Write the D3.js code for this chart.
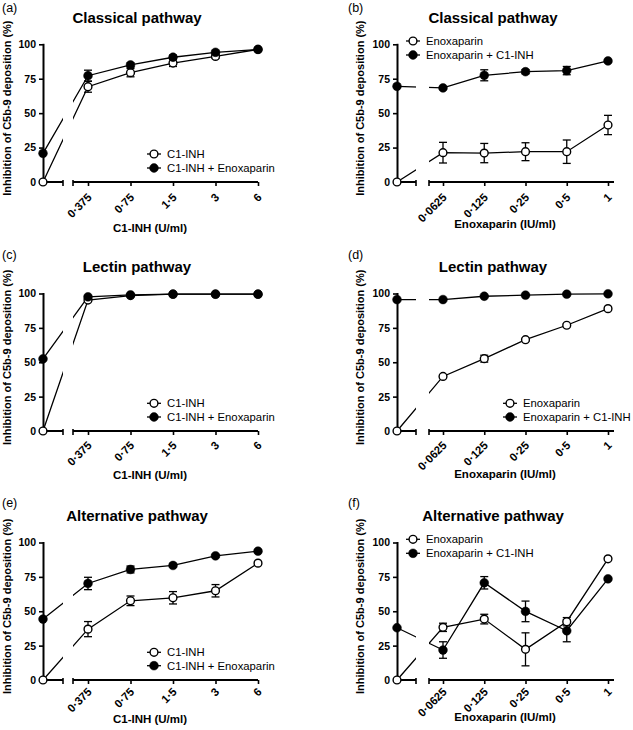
<!DOCTYPE html>
<html><head><meta charset="utf-8">
<script src="https://cdn.jsdelivr.net/npm/d3@7"></script>
<style>body{margin:0;background:#fff}svg{display:block}</style>
</head><body><svg id="chart" width="633" height="730"></svg>
<script>
// ---------- data ----------
const c1inhDoses = ["0","0·375","0·75","1·5","3","6"];
const enoxDoses  = ["0","0·0625","0·125","0·25","0·5","1"];
const yTicks = [0, 25, 50, 75, 100];
const panelLetters = ["(a)","(b)","(c)","(d)","(e)","(f)"];
const panelTitles = ["Classical pathway","Classical pathway","Lectin pathway","Lectin pathway","Alternative pathway","Alternative pathway"];
const yLabel = "Inhibition of C5b-9 deposition (%)";
const c1inhAxisTitle = "C1-INH (U/ml)";
const enoxAxisTitle = "Enoxaparin (IU/ml)";
const nameC1 = "C1-INH", nameC1E = "C1-INH + Enoxaparin";
const nameE = "Enoxaparin", nameEC = "Enoxaparin + C1-INH";

// (a) classical, C1-INH titration
const aC1     = [0, 69.2, 79.4, 86.4, 91.2, 96.3];
const aC1Err  = [0, 4, 3, 2.5, 1.5, 0.5];
const aC1E    = [20.8, 77.2, 85, 90.6, 94.2, 96.3];
const aC1EErr = [0, 4, 1.5, 1.5, 1, 0.5];
// (b) classical, enoxaparin titration
const bE      = [0, 21.3, 21, 22, 22, 41.4];
const bEErr   = [0, 7.5, 7, 6.5, 8.5, 7];
const bEC     = [69.5, 68.3, 77.5, 80.1, 80.9, 87.9];
const bECErr  = [0, 1, 4, 1.5, 3, 1];
// (c) lectin, C1-INH titration
const cC1     = [0, 95.2, 98.5, 99.5, 99.5, 99.5];
const cC1Err  = [0, 1, 0.5, 0.3, 0.3, 0.3];
const cC1E    = [52.5, 97.6, 99, 99.5, 99.5, 99.5];
const cC1EErr = [0, 1, 0.5, 0.3, 0.3, 0.3];
// (d) lectin, enoxaparin titration
const dE      = [0, 39.7, 52.6, 66.4, 76.9, 89];
const dEErr   = [0, 1, 2.5, 1, 1, 1];
const dEC     = [95.6, 95.6, 98, 98.8, 99.5, 99.8];
const dECErr  = [0, 0.5, 0.5, 0.5, 0.3, 0.3];
// (e) alternative, C1-INH titration
const eC1     = [0, 37, 57.6, 59.8, 64.9, 85];
const eC1Err  = [0, 5.5, 3.5, 4.5, 4.5, 1];
const eC1E    = [44.3, 70.2, 80.4, 83.3, 90.3, 93.7];
const eC1EErr = [0, 4.5, 2.5, 1, 1, 1];
// (f) alternative, enoxaparin titration
const fE      = [0, 38.3, 44.3, 22.3, 42.4, 88.1];
const fEErr   = [0, 3, 3.5, 12, 3, 1];
const fEC     = [38, 21.8, 70.7, 49.9, 35.8, 73.6];
const fECErr  = [0, 6, 4.5, 7.5, 8, 1];

// ---------- layout ----------
const FONT = "'Liberation Sans', Arial, Helvetica, sans-serif";
const colL = {axX: 43, t1: 88, t5: 258, brk: [63, 73], axEnd: 258, titleX: 137, xTitleX: 150, letterX: 2, yLabX: 11};
const colR = {axX: 397, t1: 443, t5: 608, brk: [416, 429], axEnd: 614, titleX: 493, xTitleX: 505, letterX: 348, yLabX: 364};
const rows = [
  {y0: 182, y100: 44.3, titleY: 23, letterY: 12, xTitleY: [232, 228], lblDy: 16},
  {y0: 431, y100: 293.5, titleY: 272, letterY: 259, xTitleY: [479, 478], lblDy: 15},
  {y0: 680, y100: 542.5, titleY: 521, letterY: 507, xTitleY: [723, 721], lblDy: 12.5}
];
const legendX = [154, 413, 154, 510, 154, 413];
const legendRows = [[154, 168], [41, 55], [403.3, 417], [403.3, 417], [652.3, 665.7], [539.3, 553.3]];

const panels = [
  {doses: c1inhDoses, xTitle: c1inhAxisTitle, series: [{name: nameC1, open: true, v: aC1, e: aC1Err}, {name: nameC1E, open: false, v: aC1E, e: aC1EErr}]},
  {doses: enoxDoses,  xTitle: enoxAxisTitle,  series: [{name: nameE, open: true, v: bE, e: bEErr}, {name: nameEC, open: false, v: bEC, e: bECErr}]},
  {doses: c1inhDoses, xTitle: c1inhAxisTitle, series: [{name: nameC1, open: true, v: cC1, e: cC1Err}, {name: nameC1E, open: false, v: cC1E, e: cC1EErr}]},
  {doses: enoxDoses,  xTitle: enoxAxisTitle,  series: [{name: nameE, open: true, v: dE, e: dEErr}, {name: nameEC, open: false, v: dEC, e: dECErr}]},
  {doses: c1inhDoses, xTitle: c1inhAxisTitle, series: [{name: nameC1, open: true, v: eC1, e: eC1Err}, {name: nameC1E, open: false, v: eC1E, e: eC1EErr}]},
  {doses: enoxDoses,  xTitle: enoxAxisTitle,  series: [{name: nameE, open: true, v: fE, e: fEErr}, {name: nameEC, open: false, v: fEC, e: fECErr}]}
];

const svg = d3.select("#chart").style("font-family", FONT);
const defs = svg.append("defs");
const R_OPEN = 3.9, R_FILL = 4.4;

panels.forEach((p, i) => {
  const col = i % 2 === 0 ? colL : colR;
  const row = rows[Math.floor(i / 2)];
  const g = svg.append("g");

  const x = d3.scaleLinear().domain([0, 1, 5]).range([col.axX, col.t1, col.t5]);
  const y = d3.scaleLinear().domain([0, 100]).range([row.y0, row.y100]);

  // panel letter & title
  g.append("text").attr("x", col.letterX).attr("y", row.letterY)
    .attr("font-size", 12.5).text(panelLetters[i]);
  g.append("text").attr("x", col.titleX).attr("y", row.titleY)
    .attr("text-anchor", "middle").attr("font-size", 15).attr("font-weight", "bold")
    .text(panelTitles[i]);

  // y axis
  const yAx = g.append("g").attr("transform", `translate(${col.axX},0)`)
    .call(d3.axisLeft(y).tickValues(yTicks).tickSize(4).tickSizeOuter(0).tickPadding(3));
  yAx.select(".domain").attr("stroke-width", 2).attr("stroke-linecap", "square");
  yAx.selectAll(".tick line").attr("stroke-width", 1.6);
  yAx.selectAll(".tick text").attr("font-size", 10.5).attr("font-weight", "bold")
    .attr("font-family", FONT).attr("fill", "#000");

  // y label
  g.append("text")
    .attr("transform", `translate(${col.yLabX},${(row.y0 + row.y100) / 2 - 5}) rotate(-90)`)
    .attr("text-anchor", "middle").attr("font-size", 11).attr("font-weight", "bold")
    .text(yLabel);

  // x axis: short segment near origin + main segment
  const xa = g.append("g");
  xa.append("line").attr("x1", col.axX).attr("x2", col.brk[0])
    .attr("y1", row.y0).attr("y2", row.y0).attr("stroke", "#000").attr("stroke-width", 2);
  xa.append("line").attr("x1", col.brk[0]).attr("x2", col.brk[0])
    .attr("y1", row.y0 - 2).attr("y2", row.y0 + 4).attr("stroke", "#000").attr("stroke-width", 1.6);
  xa.append("line").attr("x1", col.brk[1]).attr("x2", col.brk[1])
    .attr("y1", row.y0 - 2).attr("y2", row.y0 + 4).attr("stroke", "#000").attr("stroke-width", 1.6);
  xa.append("line").attr("x1", col.brk[1]).attr("x2", col.axEnd)
    .attr("y1", row.y0).attr("y2", row.y0).attr("stroke", "#000").attr("stroke-width", 2);
  const xAx = xa.append("g").attr("transform", `translate(0,${row.y0})`)
    .call(d3.axisBottom(x).tickValues([1, 2, 3, 4, 5]).tickFormat(d => p.doses[d]).tickSize(4).tickSizeOuter(0));
  xAx.select(".domain").remove();
  xAx.selectAll(".tick line").attr("stroke-width", 1.6);
  xAx.selectAll(".tick text").attr("font-size", 11.3).attr("font-weight", "bold")
    .attr("font-family", FONT).attr("fill", "#000")
    .attr("text-anchor", "end").attr("dy", null).attr("y", null)
    .attr("transform", `translate(4,${row.lblDy}) rotate(-45)`);

  g.append("text").attr("x", col.xTitleX).attr("y", row.xTitleY[i % 2])
    .attr("text-anchor", "middle").attr("font-size", 11.5).attr("font-weight", "bold")
    .text(p.xTitle);

  // clip to hide lines in axis break
  const cid = "clip" + i;
  const cp = defs.append("clipPath").attr("id", cid);
  cp.append("rect").attr("x", col.axX - 20).attr("y", row.y100 - 30).attr("width", col.brk[0] - col.axX + 20).attr("height", row.y0 - row.y100 + 40);
  cp.append("rect").attr("x", col.brk[1]).attr("y", row.y100 - 30).attr("width", 640 - col.brk[1]).attr("height", row.y0 - row.y100 + 40);

  const line = d3.line().x((d, j) => x(j)).y(d => y(d));
  p.series.forEach(s => {
    g.append("path").attr("d", line(s.v)).attr("fill", "none")
      .attr("stroke", "#000").attr("stroke-width", 1.3).attr("clip-path", `url(#${cid})`);
  });
  // error bars
  p.series.forEach(s => {
    s.v.forEach((v, j) => {
      if (!s.e[j]) return;
      const cx = x(j), yt = y(v + s.e[j]), yb = y(v - s.e[j]);
      g.append("line").attr("x1", cx).attr("x2", cx).attr("y1", yt).attr("y2", yb).attr("stroke", "#000").attr("stroke-width", 1.3);
      g.append("line").attr("x1", cx - 4).attr("x2", cx + 4).attr("y1", yt).attr("y2", yt).attr("stroke", "#000").attr("stroke-width", 1.3);
      g.append("line").attr("x1", cx - 4).attr("x2", cx + 4).attr("y1", yb).attr("y2", yb).attr("stroke", "#000").attr("stroke-width", 1.3);
    });
  });
  // markers
  p.series.forEach(s => {
    g.selectAll(null).data(s.v).join("circle")
      .attr("cx", (d, j) => x(j)).attr("cy", d => y(d))
      .attr("r", s.open ? R_OPEN : R_FILL)
      .attr("fill", s.open ? "#fff" : "#000")
      .attr("stroke", "#000").attr("stroke-width", s.open ? 1.4 : 0.5);
  });

  // legend
  const lr = legendRows[i], lx = legendX[i];
  p.series.forEach((s, k) => {
    const ly = lr[k];
    g.append("line").attr("x1", lx - 7).attr("x2", lx + 7).attr("y1", ly).attr("y2", ly)
      .attr("stroke", "#000").attr("stroke-width", 1.3);
    g.append("circle").attr("cx", lx).attr("cy", ly)
      .attr("r", s.open ? R_OPEN : R_FILL).attr("fill", s.open ? "#fff" : "#000")
      .attr("stroke", "#000").attr("stroke-width", s.open ? 1.4 : 0.5);
    g.append("text").attr("x", lx + 13).attr("y", ly).attr("dy", "0.36em")
      .attr("font-size", 11.3).text(s.name);
  });
});
</script></body></html>
